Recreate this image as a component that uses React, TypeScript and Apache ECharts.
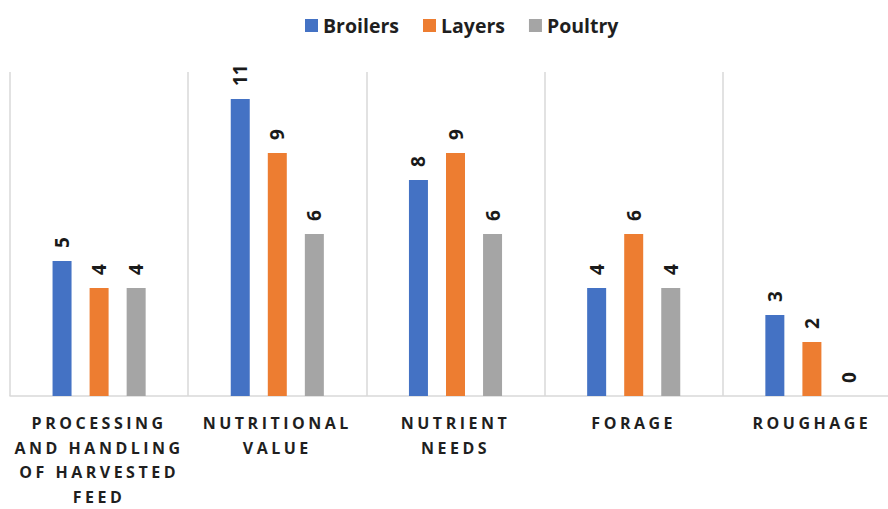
import React, { useEffect, useRef } from "react";
import * as echarts from "echarts";

const categories = [
  "PROCESSING\nAND HANDLING\nOF HARVESTED\nFEED",
  "NUTRITIONAL\nVALUE",
  "NUTRIENT\nNEEDS",
  "FORAGE",
  "ROUGHAGE",
];
const seriesNames = ["Broilers", "Layers", "Poultry"];
const broilers = [5, 11, 8, 4, 3];
const layers = [4, 9, 9, 6, 2];
const poultry = [4, 6, 6, 4, 0];
const colors = ["#4472C4", "#ED7D31", "#A5A5A5"];

export default function App() {
  const ref = useRef<HTMLDivElement>(null);
  useEffect(() => {
    if (!ref.current) return;
    const chart = echarts.init(ref.current, null, { renderer: "svg" });
    const values = [broilers, layers, poultry];
    chart.setOption({
      animation: false,
      color: colors,
      legend: {
        data: seriesNames,
        left: 300,
        top: 9,
        icon: "rect",
        itemWidth: 13,
        itemHeight: 13,
        itemGap: 24,
        textStyle: {
          fontFamily: "Open Sans",
          fontWeight: "bold",
          fontSize: 19.5,
          color: "#1f1f1f",
          lineHeight: 23,
        },
      },
      grid: { left: 10, right: 0, top: 72, bottom: 101, containLabel: false },
      xAxis: {
        type: "category",
        data: categories,
        axisTick: { show: false },
        axisLine: { lineStyle: { color: "#d9d9d9", width: 1.5 } },
        splitLine: { show: true, lineStyle: { color: "#d9d9d9", width: 1.5 } },
        axisLabel: {
          interval: 0,
          margin: 15,
          fontFamily: "Open Sans",
          fontWeight: "bold",
          fontSize: 16,
          lineHeight: 24.5,
          color: "#1f1f1f",
        },
      },
      yAxis: {
        type: "value",
        min: 0,
        max: 12,
        show: false,
        splitLine: { show: false },
      },
      series: seriesNames.map((name, i) => ({
        name,
        type: "bar",
        data: values[i],
        barWidth: 19,
        barGap: "95%",
        label: {
          show: true,
          position: "top",
          rotate: 90,
          align: "left",
          verticalAlign: "middle",
          distance: 13,
          fontFamily: "Open Sans",
          fontWeight: "bold",
          fontSize: 19,
          color: "#1a1a1a",
        },
      })),
    });
    const lines = new Set<string>();
    categories.forEach((c) => c.split("\n").forEach((l) => lines.add(l)));
    ref.current.querySelectorAll("text").forEach((t) => {
      if (lines.has((t.textContent || "").trim())) {
        t.setAttribute("letter-spacing", "3.5px");
      }
    });
    return () => chart.dispose();
  }, []);
  return (
    <div
      style={{
        position: "absolute",
        left: 0,
        top: 0,
        width: 888,
        height: 509,
        overflow: "hidden",
      }}
    >
      <div ref={ref} style={{ width: 901, height: 509 }} />
    </div>
  );
}
